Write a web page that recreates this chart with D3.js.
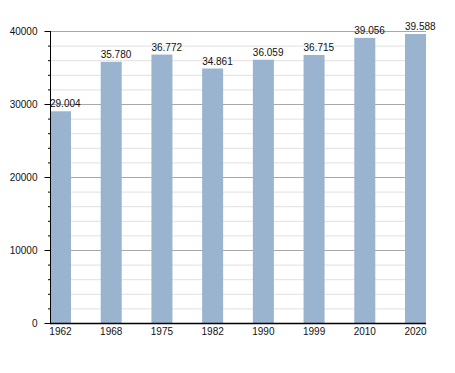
<!DOCTYPE html>
<html><head><meta charset="utf-8">
<script src="https://cdn.jsdelivr.net/npm/d3@7"></script>
<style>body{margin:0;background:#fff;}svg{display:block;font-family:"Liberation Sans",Arial,sans-serif;}</style>
</head><body>
<script>
const years = ["1962","1968","1975","1982","1990","1999","2010","2020"];
const population = [29004,35780,36772,34861,36059,36715,39056,39588];
const valueLabels = ["29.004","35.780","36.772","34.861","36.059","36.715","39.056","39.588"];
const majorTicks = [0,10000,20000,30000,40000];

const W=455,H=373;
const m={left:50,top:31,right:426,bottom:323};
const svg=d3.select("body").append("svg").attr("width",W).attr("height",H);
const x=d3.scaleBand().domain(years).range([m.left,m.right]).paddingInner(0.586).paddingOuter(0);
const y=d3.scaleLinear().domain([0,40000]).range([m.bottom,m.top]);

const minor=d3.range(0,40001,2000);
svg.append("g").selectAll("line").data(minor.filter(v=>v%10000!==0)).join("line")
  .attr("x1",m.left).attr("x2",m.right).attr("y1",d=>y(d)+0.5).attr("y2",d=>y(d)+0.5)
  .attr("stroke","#e0e0e0").attr("stroke-width",1);
svg.append("g").selectAll("line").data(majorTicks.filter(v=>v>0)).join("line")
  .attr("x1",m.left).attr("x2",m.right).attr("y1",d=>y(d)+0.5).attr("y2",d=>y(d)+0.5)
  .attr("stroke","#a8a8a8").attr("stroke-width",1);

svg.append("g").selectAll("rect").data(population).join("rect")
  .attr("x",(d,i)=>x(years[i])).attr("width",x.bandwidth())
  .attr("y",d=>y(d)).attr("height",d=>y(0)-y(d)).attr("fill","#9ab3cf");

svg.append("g").selectAll("text").data(population).join("text")
  .attr("x",(d,i)=>x(years[i])).attr("y",d=>y(d)-4)
  .attr("font-size",10).attr("fill","#111").text((d,i)=>valueLabels[i]);

// y axis
const ya=svg.append("g").attr("transform",`translate(${m.left+0.5},0)`)
  .call(d3.axisLeft(y).tickValues(majorTicks).tickSize(6).tickPadding(7).tickFormat(d3.format("d")));
ya.select(".domain").remove();
ya.selectAll("text").attr("font-size",10).attr("fill","#111").attr("font-family","Liberation Sans, Arial, sans-serif");
ya.selectAll("line").attr("stroke","#000");
svg.append("g").selectAll("line").data(minor.filter(v=>v%10000!==0)).join("line")
  .attr("x1",m.left-2).attr("x2",m.left).attr("y1",d=>y(d)+0.5).attr("y2",d=>y(d)+0.5).attr("stroke","#000");
svg.append("line").attr("x1",m.left+0.5).attr("x2",m.left+0.5).attr("y1",m.top).attr("y2",m.bottom+1).attr("stroke","#000");

// x axis
const xa=svg.append("g").attr("transform",`translate(0,${m.bottom})`)
  .call(d3.axisBottom(x).tickSize(0).tickPadding(5));
xa.select(".domain").remove();
xa.selectAll("text").attr("font-size",10).attr("fill","#111").attr("font-family","Liberation Sans, Arial, sans-serif");
svg.append("line").attr("x1",m.left).attr("x2",m.right).attr("y1",m.bottom+0.5).attr("y2",m.bottom+0.5).attr("stroke","#000").attr("stroke-width",1.5);
</script>
</body></html>
